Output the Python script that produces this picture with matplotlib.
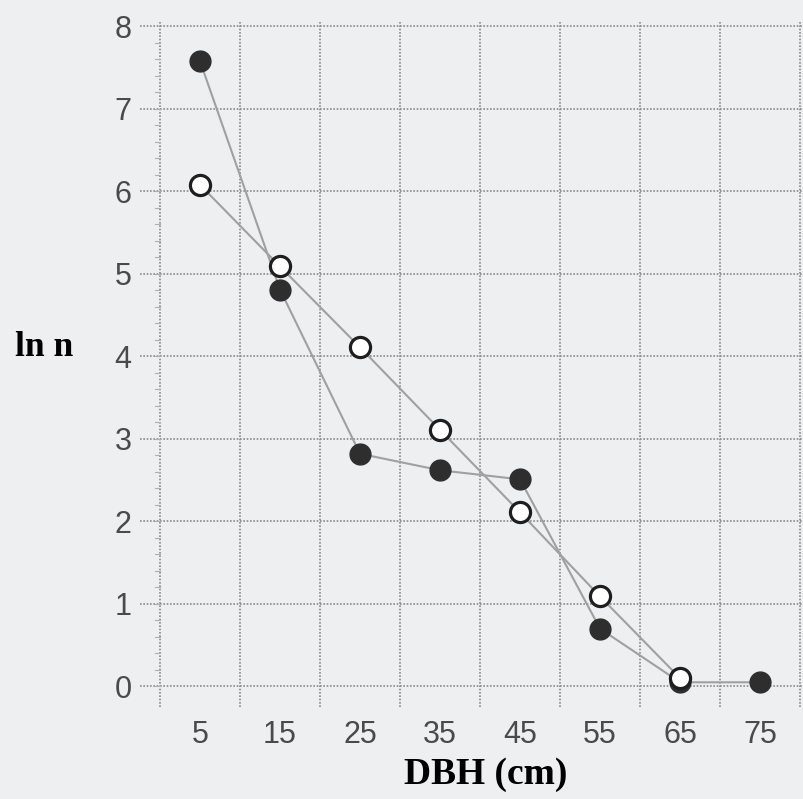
import matplotlib.pyplot as plt
import numpy as np

# DBH class midpoints (cm)
dbh = [5, 15, 25, 35, 45, 55, 65, 75]
# ln n, filled circles
ln_filled = [7.58, 4.81, 2.82, 2.62, 2.51, 0.70, 0.05, 0.05]
# ln n, open circles (no 75 class)
dbh_open = [5, 15, 25, 35, 45, 55, 65]
ln_open = [6.08, 5.09, 4.11, 3.11, 2.11, 1.09, 0.10]

xtick_labels = ['5', '15', '25', '35', '45', '55', '65', '75']

bg = '#eeeff1'
fig = plt.figure(figsize=(8.04, 7.99), dpi=100, facecolor=bg)
ax = fig.add_axes([0.1741, 0.1151, 0.826, 0.857], facecolor=bg)

ax.set_xlim(-2.5, 80.5)
ax.set_ylim(-0.25, 8.05)

# dotted grid on 10 cm / 1 unit steps
for gx in range(0, 90, 10):
    ax.axvline(gx, color='#8a8a8a', lw=1.2, ls=(0, (1, 1)), zorder=1)
for gy in range(0, 9):
    ax.axhline(gy, color='#8a8a8a', lw=1.2, ls=(0, (1, 1)), zorder=1)

# small minor ticks along the left axis
for my in np.arange(0, 8, 0.2):
    ax.plot([-0.6, 0], [my, my], color='#b0b0b0', lw=0.8, zorder=1)

ax.plot(dbh, ln_filled, color='#a0a0a0', lw=1.5, zorder=2)
ax.plot(dbh_open, ln_open, color='#a0a0a0', lw=1.5, zorder=2)
ax.plot(dbh, ln_filled, 'o', ms=15, mfc='#2e2e2e', mec='#2e2e2e', zorder=3)
ax.plot(dbh_open, ln_open, 'o', ms=14.5, mfc='white', mec='#1e1e1e', mew=2.3, zorder=4)

for s in ax.spines.values():
    s.set_visible(False)

ax.set_xticks(dbh)
ax.set_xticklabels(xtick_labels)
ax.set_yticks(range(0, 9))
ax.tick_params(length=0, labelsize=22, labelcolor='#4a4a4a')
ax.tick_params(axis='x', pad=9)
ax.tick_params(axis='y', pad=6)
for lab in ax.get_xticklabels() + ax.get_yticklabels():
    lab.set_family('Liberation Sans')

fig.text(0.0187, 0.5645, 'ln n', family='Liberation Serif', fontweight='bold',
         fontsize=25.5, va='center', ha='left')
fig.text(0.6045, 0.031, 'DBH (cm)', family='Liberation Serif', fontweight='bold',
         fontsize=27, va='center', ha='center')

fig.savefig('out.png', dpi=100, facecolor=bg)
